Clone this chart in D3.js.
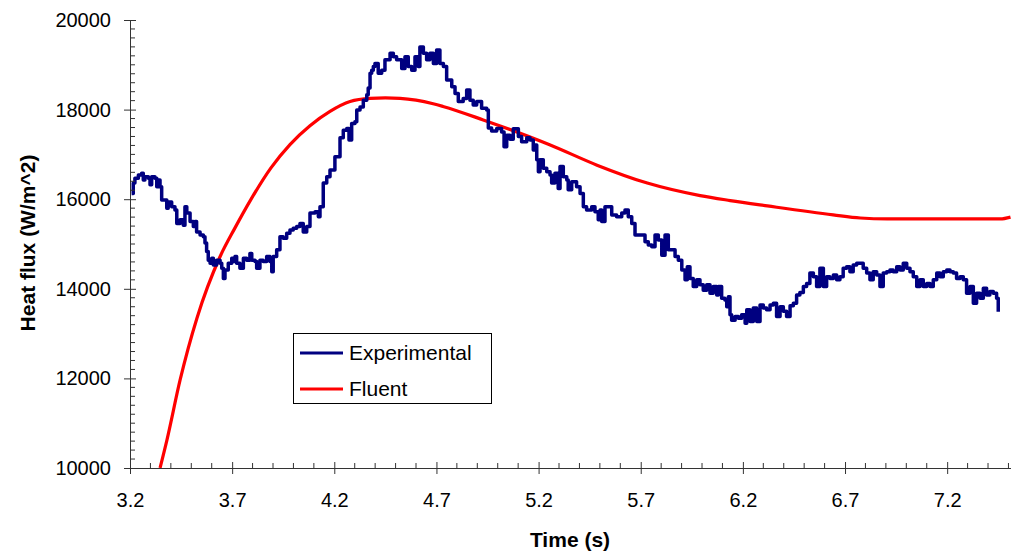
<!DOCTYPE html>
<html>
<head>
<meta charset="utf-8">
<script src="https://cdn.jsdelivr.net/npm/d3@7"></script>
<style>
  body { margin: 0; background: #fff; }
  text { font-family: Arial, "Liberation Sans", sans-serif; }
</style>
</head>
<body>
<div id="wrapper"></div>
<script>
// Experimental measurement (time s, heat flux W/m^2)
const expTime = [3.208,3.216,3.224,3.241,3.257,3.265,3.273,3.290,3.298,3.306,3.322,3.331,3.339,3.347,3.355,3.371,3.380,3.387,3.404,3.420,
  3.429,3.445,3.461,3.469,3.478,3.494,3.510,3.518,3.526,3.543,3.559,3.567,3.575,3.583,3.592,3.600,3.608,3.624,3.641,3.649,
  3.657,3.665,3.681,3.698,3.706,3.714,3.722,3.738,3.755,3.771,3.787,3.796,3.812,3.820,3.836,3.852,3.869,3.885,3.894,3.901,
  3.918,3.934,3.950,3.967,3.983,3.999,4.016,4.032,4.048,4.065,4.081,4.106,4.122,4.130,4.146,4.163,4.179,4.203,4.228,4.244,
  4.261,4.272,4.285,4.301,4.310,4.326,4.342,4.359,4.366,4.375,4.383,4.391,4.399,4.415,4.432,4.448,4.473,4.489,4.505,4.530,
  4.546,4.562,4.579,4.595,4.611,4.619,4.636,4.652,4.668,4.685,4.701,4.717,4.734,4.750,4.775,4.791,4.807,4.831,4.848,4.864,
  4.880,4.897,4.921,4.946,4.954,4.970,4.995,5.019,5.031,5.044,5.060,5.076,5.101,5.117,5.142,5.158,5.174,5.182,5.191,5.199,
  5.207,5.223,5.240,5.256,5.264,5.280,5.296,5.305,5.321,5.338,5.345,5.362,5.386,5.403,5.419,5.435,5.460,5.476,5.492,5.501,
  5.509,5.525,5.541,5.558,5.582,5.607,5.623,5.639,5.656,5.672,5.705,5.721,5.737,5.754,5.770,5.786,5.803,5.819,5.835,5.852,
  5.868,5.884,5.901,5.917,5.928,5.941,5.957,5.974,5.990,6.006,6.023,6.039,6.055,6.072,6.080,6.096,6.112,6.121,6.129,6.137,
  6.145,6.162,6.178,6.194,6.211,6.219,6.235,6.251,6.268,6.284,6.300,6.316,6.333,6.349,6.365,6.382,6.398,6.414,6.431,6.447,
  6.463,6.479,6.496,6.512,6.528,6.545,6.561,6.577,6.594,6.610,6.626,6.643,6.659,6.675,6.691,6.708,6.724,6.740,6.757,6.773,
  6.789,6.806,6.822,6.838,6.855,6.871,6.887,6.904,6.920,6.936,6.953,6.969,6.985,7.002,7.018,7.034,7.051,7.067,7.083,7.100,
  7.116,7.132,7.149,7.165,7.181,7.198,7.214,7.230,7.246,7.263,7.279,7.295,7.312,7.328,7.344,7.361,7.377,7.393,7.409,7.426,
  7.442,7.450]
const expFlux = [16130,16360,16470,16540,16580,16430,16500,16470,16320,16500,16470,16280,16430,16280,15980,15980,15800,15940,15830,15760,
  15460,15540,15420,15830,15690,15500,15390,15500,15270,15200,15160,15020,14830,14640,14570,14680,14530,14640,14570,14460,
  14230,14420,14570,14680,14610,14720,14570,14460,14680,14640,14790,14640,14610,14460,14640,14610,14720,14610,14380,14720,
  14870,15160,15130,15240,15310,15350,15390,15460,15270,15390,15690,15720,15610,15830,16360,16500,16650,16950,17370,17540,
  17580,17320,17690,17730,17990,18060,18210,18330,18480,18810,18880,18960,19030,18810,18880,19110,19260,19180,19110,18920,
  19180,18960,18880,19180,18960,19400,19260,19110,19260,19030,19330,19030,18960,18660,18510,18360,18180,18250,18440,18210,
  18100,18180,18030,17990,17590,17520,17580,17500,17170,17430,17340,17570,17400,17280,17370,17320,17100,17210,16880,16610,
  16880,16690,16610,16540,16360,16580,16240,16730,16500,16430,16210,16390,16280,16130,15830,15760,15830,15720,15540,15760,
  15500,15830,15830,15650,15610,15690,15760,15610,15460,15200,15200,15050,14980,14940,15200,15090,14750,15200,14870,14870,
  14720,14640,14420,14200,14490,14230,14050,14200,14090,13970,14090,13900,14050,13860,14050,13790,13750,13600,13820,13420,
  13300,13380,13340,13420,13230,13530,13270,13570,13270,13640,13570,13530,13640,13680,13380,13600,13500,13380,13620,13680,
  13860,13920,14050,14120,14350,14270,14050,14460,14050,14270,14230,14310,14200,14270,14460,14490,14380,14530,14570,14570,
  14460,14350,14200,14380,14310,14050,14350,14380,14420,14380,14490,14420,14570,14460,14380,14270,14050,14200,14050,14120,
  14050,14200,14350,14270,14380,14420,14380,14350,14230,14270,14200,13900,14050,13680,13900,13790,14010,13860,13940,13900,
  13790,13490]

// Fluent simulation
const fluentTime = [3.347,3.381,3.445,3.528,3.640,3.714,3.790,3.890,3.983,4.081,4.179,4.277,4.375,4.450,4.522,4.600,4.684,4.732,
  4.929,5.257,5.486,5.732,5.991,6.138,6.320,6.642,6.775,6.907,7.200,7.460,7.510]
const fluentFlux = [10000,10630,11960,13350,14710,15360,15980,16700,17220,17640,17960,18180,18250,18260,18250,18210,18130,18070,
  17770,17210,16760,16360,16080,15970,15850,15650,15580,15560,15560,15560,15600]

const xMajorTicks = [3.2, 3.7, 4.2, 4.7, 5.2, 5.7, 6.2, 6.7, 7.2]
const yMajorTicks = [10000, 12000, 14000, 16000, 18000, 20000]
const xMinorTicks = d3.range(3.3, 7.55, 0.1).map(d => +d.toFixed(1))
const yMinorTicks = d3.range(10200, 20000, 200)

const legendItems = [
  { name: 'Experimental', color: '#000080' },
  { name: 'Fluent', color: '#ff0000' },
]

const dimensions = {
  width: 1013,
  height: 553,
  margin: { top: 20, right: 3, bottom: 85, left: 130 },
}
dimensions.boundedWidth = dimensions.width - dimensions.margin.left - dimensions.margin.right
dimensions.boundedHeight = dimensions.height - dimensions.margin.top - dimensions.margin.bottom

const wrapper = d3.select('#wrapper')
  .append('svg')
  .attr('width', dimensions.width)
  .attr('height', dimensions.height)

const bounds = wrapper.append('g')
  .attr('transform', `translate(${dimensions.margin.left}, ${dimensions.margin.top})`)

const scaleX = d3.scaleLinear()
  .domain([3.2, 7.51])
  .range([0, 880.5])

const scaleY = d3.scaleLinear()
  .domain([10000, 20000])
  .range([dimensions.boundedHeight, 0])

const expData = expTime.map((t, i) => ({ t, v: expFlux[i] }))
const fluentData = fluentTime.map((t, i) => ({ t, v: fluentFlux[i] }))

// lines
const lineGen = d3.line()
  .x(d => scaleX(d.t))
  .y(d => scaleY(d.v))

bounds.append('path')
  .datum(fluentData)
  .attr('d', lineGen.curve(d3.curveMonotoneX))
  .attr('fill', 'none')
  .attr('stroke', '#ff0000')
  .attr('stroke-width', 3.2)

bounds.append('path')
  .datum(expData)
  .attr('d', lineGen.curve(d3.curveStepAfter))
  .attr('fill', 'none')
  .attr('stroke', '#000080')
  .attr('stroke-width', 3.5)
  .attr('stroke-linejoin', 'round')

// axes
const axisColor = '#333'
const xAxis = bounds.append('g')
  .attr('transform', `translate(0, ${dimensions.boundedHeight})`)
  .call(d3.axisBottom(scaleX).tickValues(xMajorTicks).tickSizeInner(-6).tickSizeOuter(0).tickPadding(0).tickFormat(d3.format('.1f')))
xAxis.select('.domain').attr('stroke', axisColor)
xAxis.selectAll('.tick line').attr('stroke', axisColor).attr('y1', 6)
xAxis.selectAll('.tick text')
  .attr('y', 25)
  .attr('fill', '#000')
  .style('font-size', '20px')

xAxis.selectAll('.minor')
  .data(xMinorTicks.filter(d => !xMajorTicks.includes(d)))
  .join('line')
  .attr('class', 'minor')
  .attr('x1', d => scaleX(d)).attr('x2', d => scaleX(d))
  .attr('y1', 0).attr('y2', -5)
  .attr('stroke', axisColor)

const yAxis = bounds.append('g')
  .call(d3.axisLeft(scaleY).tickValues(yMajorTicks).tickSizeInner(6).tickSizeOuter(0).tickPadding(14).tickFormat(d3.format('d')))
yAxis.select('.domain').attr('stroke', axisColor)
yAxis.selectAll('.tick line').attr('stroke', axisColor).attr('x2', 6).attr('x1', -6)
yAxis.selectAll('.tick text')
  .attr('x', -19)
  .attr('fill', '#000')
  .style('font-size', '20px')

yAxis.selectAll('.minor')
  .data(yMinorTicks.filter(d => !yMajorTicks.includes(d)))
  .join('line')
  .attr('class', 'minor')
  .attr('x1', 0).attr('x2', 5)
  .attr('y1', d => scaleY(d)).attr('y2', d => scaleY(d))
  .attr('stroke', axisColor)

// axis titles
wrapper.append('text')
  .text('Time (s)')
  .attr('x', 570)
  .attr('y', 547)
  .style('font-size', '21px')
  .style('font-weight', 'bold')
  .style('text-anchor', 'middle')

wrapper.append('text')
  .text('Heat flux (W/m^2)')
  .attr('transform', 'translate(35, 243) rotate(-90)')
  .style('font-size', '21px')
  .style('font-weight', 'bold')
  .style('text-anchor', 'middle')

// legend
const legend = wrapper.append('g')
  .attr('transform', 'translate(293, 333)')

legend.append('rect')
  .attr('x', 0.5).attr('y', 0.5)
  .attr('width', 198).attr('height', 70)
  .attr('fill', '#fff')
  .attr('stroke', '#000')

const legendRows = legend.selectAll('.row')
  .data(legendItems)
  .join('g')
  .attr('class', 'row')
  .attr('transform', (d, i) => `translate(0, ${20 + i * 36})`)

legendRows.append('line')
  .attr('x1', 7).attr('x2', 50)
  .attr('stroke', d => d.color)
  .attr('stroke-width', 3)

legendRows.append('text')
  .text(d => d.name)
  .attr('x', 56)
  .attr('dy', '0.35em')
  .style('font-size', '21px')
</script>
</body>
</html>
